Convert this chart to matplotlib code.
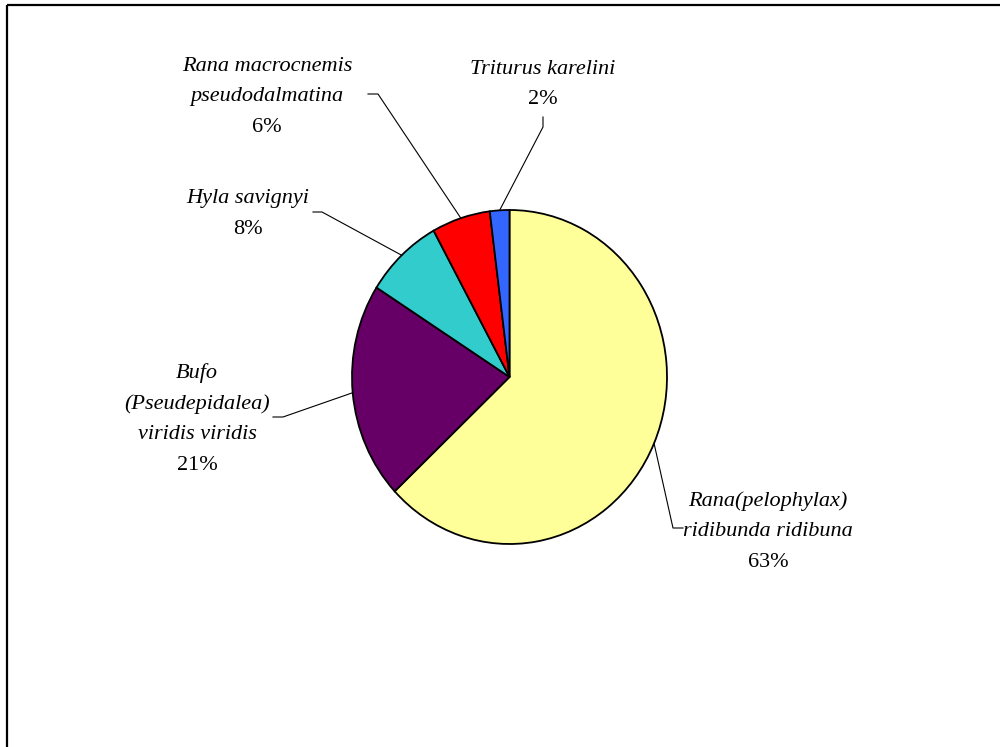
import matplotlib
matplotlib.use("Agg")
import matplotlib.pyplot as plt
import numpy as np

# ---- data ----
species = [
    "Rana(pelophylax)\nridibunda ridibuna",
    "Bufo\n(Pseudepidalea)\nviridis viridis",
    "Hyla savignyi",
    "Rana macrocnemis\npseudodalmatina",
    "Triturus karelini",
]
shares = [63, 21, 8, 6, 2]
colors = ["#FFFF99", "#660066", "#33CCCC", "#FF0000", "#3366FF"]

# ---- layout (pixel coordinates, y downward) ----
W, H = 1000, 747
pie_box = (352, 210, 667, 544)  # left, top, right, bottom
# label anchor: (center x, baseline y of first line), line step
label_pos = [(768, 506), (197, 378), (248, 203), (267, 71), (543, 74)]
line_step = 30.5
# leader line elbow and end points
elbows = [((673, 528), (683, 528)),
          ((283, 417), (273, 417)),
          ((322, 212), (313, 212)),
          ((378, 94), (368, 94)),
          ((543, 127), (543, 117))]

FONT = ["Liberation Serif", "DejaVu Serif"]
FS = 16

fig = plt.figure(figsize=(W / 100, H / 100), dpi=100)
fig.patch.set_facecolor("white")

l, t, r, b = pie_box
pax = fig.add_axes([l / W, 1 - b / H, (r - l) / W, (b - t) / H])
wedges, _ = pax.pie(shares, colors=colors, startangle=90, counterclock=False,
                    radius=1.0, wedgeprops=dict(edgecolor="black", linewidth=1.3))
pax.set_aspect("auto")
pax.set_xlim(-1, 1)
pax.set_ylim(-1, 1)
pax.axis("off")

ov = fig.add_axes([0, 0, 1, 1], facecolor="none")
ov.set_xlim(0, W)
ov.set_ylim(H, 0)
ov.axis("off")

# frame (top and left edges)
ov.plot([7, W], [5, 5], color="black", lw=1.6, solid_capstyle="butt")
ov.plot([7, 7], [5, H], color="black", lw=1.6, solid_capstyle="butt")

fig.canvas.draw()
to_ov = pax.transData + ov.transData.inverted()
for i, w in enumerate(wedges):
    mid = np.deg2rad((w.theta1 + w.theta2) / 2)
    sx, sy = to_ov.transform((np.cos(mid), np.sin(mid)))
    (ex, ey), (fx, fy) = elbows[i]
    ov.plot([sx, ex, fx], [sy, ey, fy], color="black", lw=0.8)

    cx, by = label_pos[i]
    lines = species[i].split("\n")
    for k, ln in enumerate(lines):
        ov.text(cx, by + k * line_step, ln, ha="center", va="baseline",
                family=FONT, style="italic", fontsize=FS)
    ov.text(cx, by + len(lines) * line_step, f"{shares[i]}%", ha="center",
            va="baseline", family=FONT, fontsize=FS)

fig.savefig("out.png", dpi=100)
